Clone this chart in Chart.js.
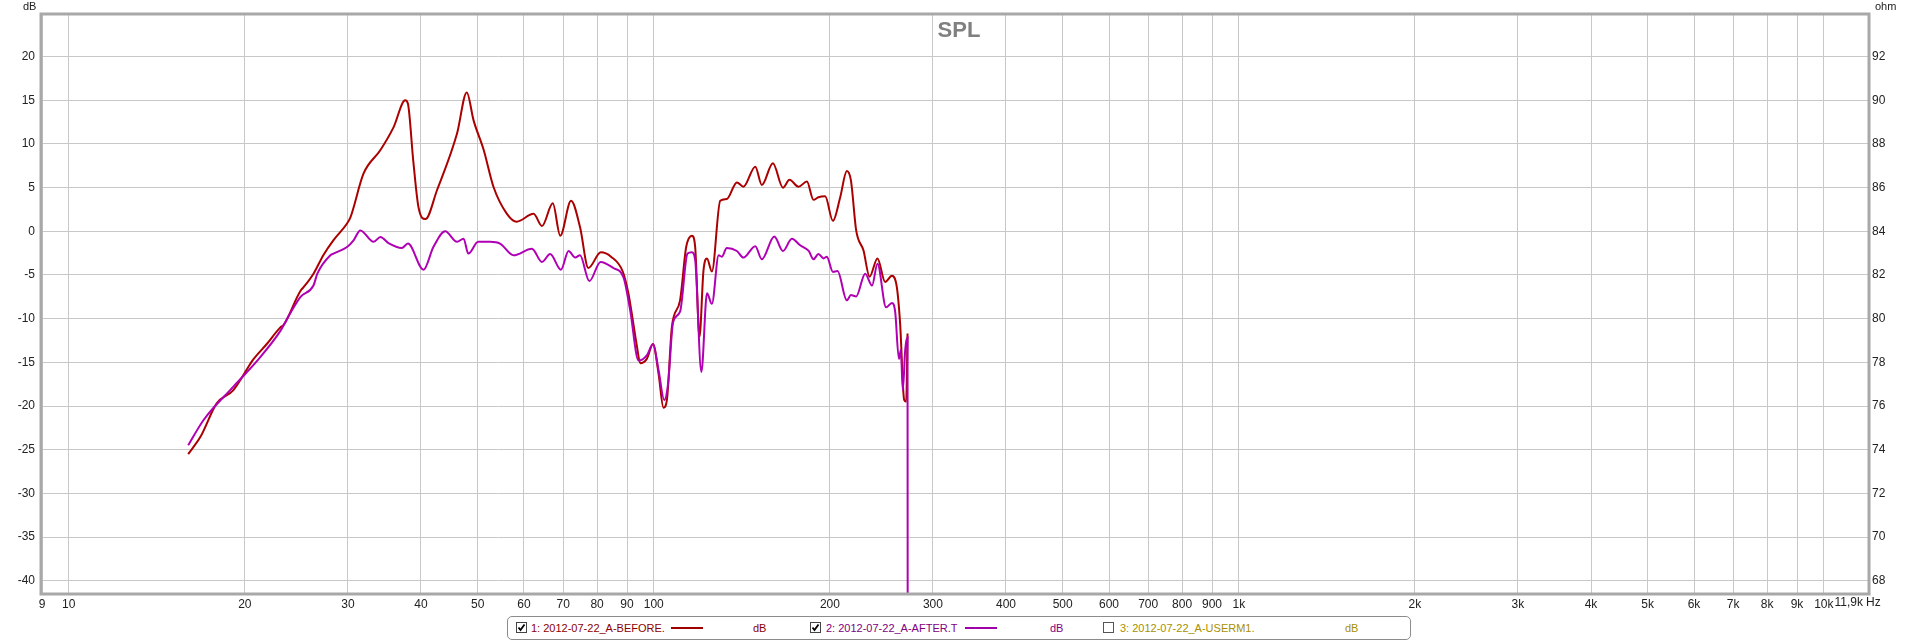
<!DOCTYPE html>
<html>
<head>
<meta charset="utf-8">
<title>SPL</title>
<script src="https://cdn.jsdelivr.net/npm/chart.js@4.4.1/dist/chart.umd.min.js"></script>
<style>
  body { margin: 0; background: #fff; }
  #wrap { position: relative; width: 1920px; height: 641px; }
  #legend {
    position: absolute; left: 507px; top: 616px; width: 902px; height: 22px;
    border: 1px solid #8c8c8c; border-radius: 5px; background: #fff;
    font: 11px "Liberation Sans", Arial, sans-serif;
  }
  #legend span, #legend svg, #legend i { position: absolute; }
  #legend span { top: 5px; line-height: 12px; white-space: nowrap; }
  #legend svg { top: 5px; }
  #legend i { top: 10px; height: 2px; width: 32px; }
</style>
</head>
<body>
<div id="wrap">
  <canvas id="chart" width="1920" height="641"></canvas>
  <div id="legend">
    <svg style="left:8px" width="11" height="11"><rect x="0.5" y="0.5" width="10" height="10" fill="#fff" stroke="#444"/><path d="M2.5 5.5 L4.5 8 L8.5 2.5" fill="none" stroke="#000" stroke-width="1.8"/></svg>
    <span style="left:23px;color:#8b0000">1: 2012-07-22_A-BEFORE.</span>
    <i style="left:163px;background:#a00000"></i>
    <span style="left:245px;color:#8b0000">dB</span>
    <svg style="left:302px" width="11" height="11"><rect x="0.5" y="0.5" width="10" height="10" fill="#fff" stroke="#444"/><path d="M2.5 5.5 L4.5 8 L8.5 2.5" fill="none" stroke="#000" stroke-width="1.8"/></svg>
    <span style="left:318px;color:#800080">2: 2012-07-22_A-AFTER.T</span>
    <i style="left:457px;background:#a000a8"></i>
    <span style="left:542px;color:#800080">dB</span>
    <svg style="left:595px" width="11" height="11"><rect x="0.5" y="0.5" width="10" height="10" fill="#fff" stroke="#555"/></svg>
    <span style="left:612px;color:#a89000">3: 2012-07-22_A-USERM1.</span>
    <span style="left:837px;color:#a89000">dB</span>
  </div>
</div>
<script>
// frequency ticks on the log x axis (Hz)
const freqTicks = [9, 10, 20, 30, 40, 50, 60, 70, 80, 90, 100, 200, 300, 400, 500, 600, 700, 800, 900,
  1000, 2000, 3000, 4000, 5000, 6000, 7000, 8000, 9000, 10000, 11900];
const dbTicks = [-40, -35, -30, -25, -20, -15, -10, -5, 0, 5, 10, 15, 20];
const ohmTicks = [68, 70, 72, 74, 76, 78, 80, 82, 84, 86, 88, 90, 92];

// 1: BEFORE (dark red)
const beforeFreq = [16.0, 16.8, 17.9, 19.1, 20.2, 20.6, 21.8, 23.0, 23.3, 24.9, 25.2, 26.2, 27.25, 28.35,
  29.9, 30.3, 31.9, 34.1, 35.9, 37.6, 38.0, 38.8, 39.6, 40.7, 42.6, 46.1, 47.9, 49.2, 51.2, 53.2,
  56.1, 58.3, 62.3, 64.4, 67.2, 69.2, 72.2, 74.8, 77.3, 81.2, 84.5, 88.5, 90.5, 91.5, 93.6, 94.8,
  97.3, 99.7, 101.9, 103.9, 105.3, 107.4, 110.9, 113.6, 116.2, 117.7, 119.7, 121.6, 123.3, 125.7,
  129.9, 133.3, 138.7, 142.3, 149.1, 153.0, 159.8, 166.3, 170.6, 176.8, 182.7, 187.5, 191.2, 196.3,
  202.4, 208.3, 213.8, 217.3, 221.8, 228.3, 233.8, 241.2, 248.6, 255.3, 260.3, 263.7, 267.9, 270.1, 271.5];
const beforeDb = [-25.5, -23.5, -19.7, -18.2, -15.7, -14.8, -12.9, -11.0, -10.7, -6.8, -6.4, -4.85, -2.7, -1.0,
  0.9, 1.6, 6.6, 9.3, 11.9, 15.0, 14.6, 8.1, 2.8, 1.4, 4.7, 11.2, 15.9, 12.7, 9.3, 5.1,
  2.0, 1.1, 2.0, 0.6, 3.2, -0.5, 3.5, 0.5, -4.2, -2.4, -2.9, -4.6, -7.1, -9.0, -13.2, -15.1,
  -14.6, -12.9, -16.3, -20.2, -19.3, -10.9, -7.9, -1.8, -0.5, -1.8, -12.1, -4.5, -3.1, -4.6,
  3.5, 3.7, 5.6, 5.1, 7.4, 5.3, 7.8, 5.0, 5.9, 5.1, 5.7, 3.6, 3.9, 4.0,
  1.2, 3.9, 6.9, 5.8, 0.1, -2.2, -5.2, -3.1, -5.8, -5.1, -6.4, -10.6, -19.3, -19.5, -11.7];

// 2: AFTER (purple)
const afterFreq = [16.0, 17.0, 19.1, 21.0, 23.0, 23.9, 24.9, 26.2, 26.6, 28.0, 28.35, 29.9, 30.7, 31.5,
  33.2, 34.1, 35.2, 37.1, 38.0, 40.4, 42.0, 44.0, 46.1, 47.3, 48.2, 50.1, 52.5, 54.6, 57.6, 61.9,
  64.4, 66.5, 69.4, 71.5, 73.4, 74.8, 77.6, 81.1, 85.3, 88.8, 91.1, 94.2, 97.3, 99.7, 101.9, 104.2,
  105.8, 107.9, 110.9, 114.2, 116.2, 117.7, 120.6, 123.3, 125.7, 129.1, 130.7, 133.3, 138.7, 142.3,
  149.1, 153.0, 160.7, 166.3, 172.2, 177.9, 184.0, 187.5, 191.2, 195.1, 197.6, 202.4, 206.1, 213.8,
  217.3, 221.8, 229.8, 236.1, 241.2, 249.5, 255.3, 258.6, 262.4, 264.4, 266.5, 269.0, 271.5, 271.8];
const afterDb = [-24.5, -21.6, -17.8, -14.8, -11.4, -9.4, -7.5, -6.2, -4.85, -2.75, -2.55, -1.8, -1.0, 0.1,
  -1.2, -0.65, -1.35, -1.9, -1.4, -4.4, -1.8, 0.0, -1.2, -0.85, -2.55, -1.2, -1.2, -1.4, -2.75, -2.0,
  -3.5, -2.6, -4.4, -2.25, -3.0, -2.75, -5.7, -3.5, -4.2, -5.3, -9.0, -14.8, -14.2, -12.9, -15.9, -19.3,
  -17.4, -10.4, -9.2, -2.55, -2.4, -3.3, -16.1, -7.1, -8.3, -2.75, -2.9, -1.9, -2.25, -3.0,
  -1.7, -3.2, -0.6, -2.25, -0.85, -1.6, -2.25, -3.2, -2.6, -3.1, -2.9, -4.65, -4.55, -7.9,
  -7.3, -7.45, -4.85, -6.2, -3.7, -8.7, -8.2, -9.2, -14.6, -13.6, -18.2, -13.6, -12.1, -80];

const toPoints = (xs, ys) => xs.map((x, i) => ({ x: x, y: ys[i] }));

const fmtHz = v => v >= 1000 ? (v / 1000) + 'k' : String(v);

const decor = {
  id: 'decor',
  afterDraw(chart) {
    const { ctx, chartArea: a } = chart;
    ctx.save();
    // plot frame
    ctx.strokeStyle = '#a8a8a8';
    ctx.lineWidth = 3;
    ctx.strokeRect(a.left - 1, a.top - 1, a.right - a.left + 2, a.bottom - a.top + 2);
    // title inside the plot
    ctx.fillStyle = '#808080';
    ctx.font = 'bold 22px "Liberation Sans", Arial, sans-serif';
    ctx.textAlign = 'center';
    ctx.textBaseline = 'top';
    ctx.fillText('SPL', (a.left + a.right) / 2 + 4, a.top + 5);
    // unit labels
    ctx.fillStyle = '#222';
    ctx.font = '11px "Liberation Sans", Arial, sans-serif';
    ctx.textAlign = 'left';
    ctx.fillText('dB', 23, 1);
    ctx.fillText('ohm', a.right + 7, 1);
    ctx.font = '12px "Liberation Sans", Arial, sans-serif';
    ctx.textAlign = 'right';
    ctx.fillText('11,9k', a.right - 5, a.bottom + 4);
    ctx.textAlign = 'left';
    ctx.fillText('Hz', a.right - 2, a.bottom + 4);
    ctx.restore();
  }
};

Chart.defaults.font.family = '"Liberation Sans", Arial, sans-serif';
Chart.defaults.font.size = 12;
Chart.defaults.color = '#222';

new Chart(document.getElementById('chart'), {
  type: 'line',
  data: {
    datasets: [
      {
        label: '1: 2012-07-22_A-BEFORE.',
        data: toPoints(beforeFreq, beforeDb),
        borderColor: '#aa0000',
        borderWidth: 2,
        pointRadius: 0,
        cubicInterpolationMode: 'monotone',
        order: 2
      },
      {
        label: '2: 2012-07-22_A-AFTER.T',
        data: toPoints(afterFreq, afterDb),
        borderColor: '#b000b4',
        borderWidth: 2,
        pointRadius: 0,
        cubicInterpolationMode: 'monotone',
        order: 1
      }
    ]
  },
  options: {
    responsive: false,
    animation: false,
    devicePixelRatio: 1,
    layout: { padding: { top: 15, left: 0, right: 0, bottom: 0 } },
    plugins: { legend: { display: false }, title: { display: false }, tooltip: { enabled: false } },
    scales: {
      x: {
        type: 'logarithmic',
        min: 9,
        max: 11900,
        afterBuildTicks: s => { s.ticks = freqTicks.map(v => ({ value: v })); },
        afterFit: s => { s.height = 48; },
        ticks: {
          autoSkip: false,
          maxRotation: 0,
          padding: 4,
          callback: v => v === 11900 ? '' : fmtHz(v)
        },
        grid: { color: '#c8c8c8', drawTicks: false },
        border: { display: false }
      },
      y: {
        position: 'left',
        min: -41.4,
        max: 24.76,
        afterBuildTicks: s => { s.ticks = dbTicks.map(v => ({ value: v })); },
        afterFit: s => { s.width = 42; },
        ticks: { padding: 7 },
        grid: { color: '#c8c8c8', drawTicks: false },
        border: { display: false }
      },
      ohm: {
        position: 'right',
        min: 67.44,
        max: 93.9,
        afterBuildTicks: s => { s.ticks = ohmTicks.map(v => ({ value: v })); },
        afterFit: s => { s.width = 52; },
        ticks: { padding: 4 },
        grid: { display: false, drawTicks: false },
        border: { display: false }
      }
    }
  },
  plugins: [decor]
});
</script>
</body>
</html>
